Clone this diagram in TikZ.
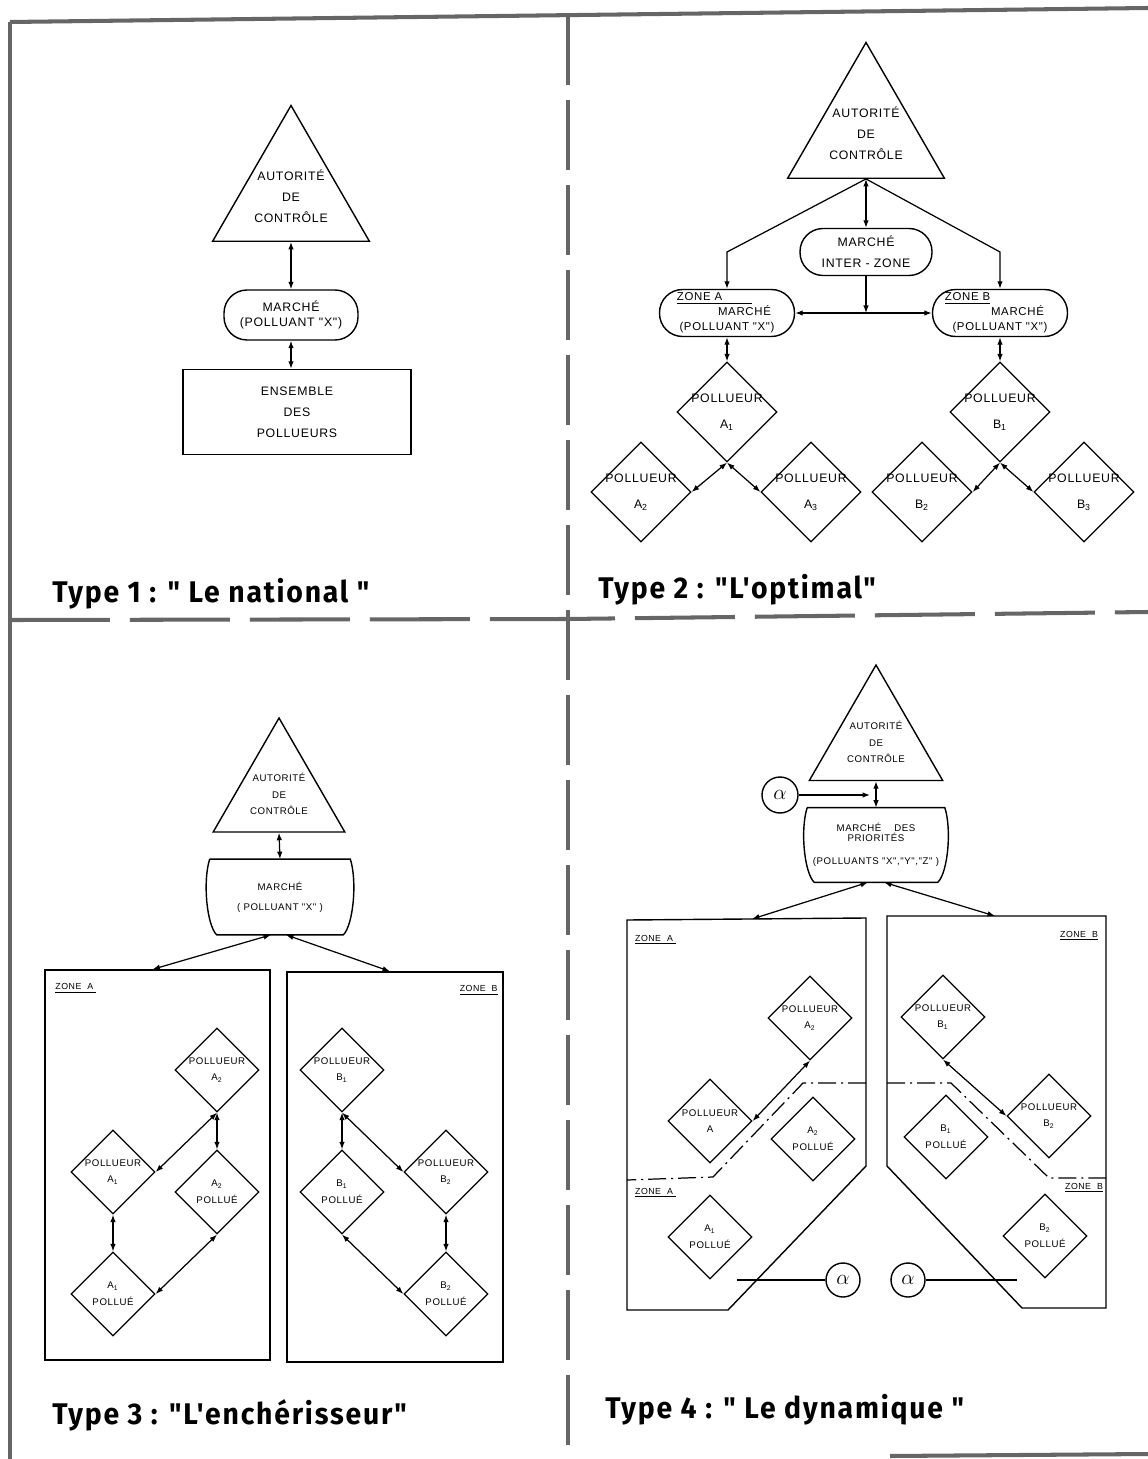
\documentclass[tikz,border=0pt]{standalone}
\usepackage{fontspec}
\newfontfamily\lettr[LetterSpace=6]{Liberation Sans}
\newfontfamily\titlefont[FakeStretch=0.95,LetterSpace=6]{Fira Sans}
\usetikzlibrary{arrows.meta,positioning,shapes.geometric,calc}
\newcommand{\zw}[1]{\makebox[0pt]{#1}}

\begin{document}
\begin{tikzpicture}[
  x=0.02cm, y=-0.02cm,
  >={Latex[length=1.5mm,width=1.1mm]},
  frame/.style   = {draw=black!60, line width=2.3pt},
  ctl/.style     = {regular polygon, regular polygon sides=3, draw, line width=0.8pt,
                    inner sep=0pt, align=center},
  pill/.style    = {rectangle, draw, rounded corners=0.46cm, line width=0.8pt,
                    inner sep=0pt, align=center},
  ens/.style     = {rectangle, draw, line width=0.8pt, inner sep=0pt, align=center},
  barrel/.style  = {rectangle, inner sep=0pt, align=center},
  pol/.style     = {diamond, draw, line width=0.7pt, inner sep=0pt, align=center},
  zonebox/.style = {draw, line width=0.8pt},
  sub/.style     = {draw, line width=0.7pt,
                    dash pattern=on 0.36cm off 0.1cm on 0.04cm off 0.1cm},
  alf/.style     = {circle, draw, line width=0.8pt, inner sep=0pt,
                    font=\fontsize{12}{12}\selectfont},
  arr/.style     = {<->, line width=0.7pt},
  sarr/.style    = {->, line width=0.7pt},
  big/.style     = {font=\lettr\fontsize{7}{12}\selectfont},
  sml/.style     = {font=\lettr\fontsize{5.5}{9.5}\selectfont},
  ztag/.style    = {font=\lettr\fontsize{5}{6}\selectfont, inner sep=1pt},
  title/.style   = {font=\titlefont\bfseries\fontsize{17}{20}\selectfont,
                    anchor=base west, inner sep=0pt}
]
\useasboundingbox (0,0) rectangle (1148,1459);

%%% ---- FRAME ----
\draw[frame] (10,22) -- (1148,8);
\draw[frame] (10,22) -- (10,1459);
\draw[frame, dash pattern=on 1.4cm off 0.3cm] (568,15) -- (568,1459);
\draw[frame, dash pattern=on 2cm off 0.4cm] (10,620) -- (568,619);
\draw[frame, dash pattern=on 2cm off 0.4cm, dash phase=1.06cm] (568,619) -- (1148,612);
\draw[frame] (890,1456) -- (1148,1454);

%%% ---- TYPE 1 ----
\node[ctl, big, minimum size=3.62cm] (aut1) at (291,196)
  {\zw{AUTORITÉ}\\\zw{DE}\\\zw{CONTRÔLE}};
\node[pill, big, minimum width=2.68cm, minimum height=1cm] (mk1) at (291,315)
  {\zw{MARCHÉ}\\[-3pt]\zw{(POLLUANT "X")}};
\node[ens, big, minimum width=4.56cm, minimum height=1.7cm] (ens1) at (297,412)
  {ENSEMBLE\\DES\\POLLUEURS};

\draw[arr] (aut1.south) -- (mk1.north);
\draw[arr] (mk1.south)  -- (mk1.south |- ens1.north);

\node[title] (t1) at (52,602) {Type 1 : " Le national "};

%%% ---- TYPE 2 ----
\node[ctl, big, minimum size=3.62cm] (aut2) at (866,133)
  {\zw{AUTORITÉ}\\\zw{DE}\\\zw{CONTRÔLE}};
\node[pill, big, minimum width=2.64cm, minimum height=0.94cm] (mi2) at (866,252)
  {\zw{MARCHÉ}\\\zw{INTER - ZONE}};
\node[pill, font=\lettr\fontsize{6.5}{8.5}\selectfont, minimum width=2.7cm,
      minimum height=0.94cm] (zA2) at (727,313)
  {\zw{\hspace*{-0.5cm}\underline{ZONE A\hspace*{0.6cm}}}\\
   \zw{\hspace*{0.7cm}MARCHÉ}\\\zw{(POLLUANT "X")}};
\node[pill, font=\lettr\fontsize{6.5}{8.5}\selectfont, minimum width=2.7cm,
      minimum height=0.94cm] (zB2) at (1000,313)
  {\zw{\hspace*{-1.3cm}\underline{ZONE B}}\\
   \zw{\hspace*{0.7cm}MARCHÉ}\\\zw{(POLLUANT "X")}};

\node[pol, big, minimum size=2cm] (pA1) at (727,412) {\zw{POLLUEUR}\\[3pt]\zw{A\textsubscript{1}}};
\node[pol, big, minimum size=2cm] (pA2) at (641,492) {\zw{POLLUEUR}\\[3pt]\zw{A\textsubscript{2}}};
\node[pol, big, minimum size=2cm] (pA3) at (811,492) {\zw{POLLUEUR}\\[3pt]\zw{A\textsubscript{3}}};
\node[pol, big, minimum size=2cm] (pB1) at (1000,412) {\zw{POLLUEUR}\\[3pt]\zw{B\textsubscript{1}}};
\node[pol, big, minimum size=2cm] (pB2) at (922,492) {\zw{POLLUEUR}\\[3pt]\zw{B\textsubscript{2}}};
\node[pol, big, minimum size=2cm] (pB3) at (1084,492) {\zw{POLLUEUR}\\[3pt]\zw{B\textsubscript{3}}};

\draw[arr]  (aut2.south) -- (mi2.north);
\draw[sarr] (aut2.south) -- (zA2.north |- mi2.center) -- (zA2.north);
\draw[sarr] (aut2.south) -- (zB2.north |- mi2.center) -- (zB2.north);
\draw[arr]  (zA2.east) -- (zB2.west);
\draw[sarr] (mi2.south) -- (mi2.south |- zA2.east);
\draw[arr]  (pA1.north) -- (zA2.south);
\draw[arr]  (pB1.north) -- (zB2.south);
\draw[arr]  (pA1.south) -- (pA2.east);
\draw[arr]  (pA1.south) -- (pA3.west);
\draw[arr]  (pB1.south) -- (pB2.east);
\draw[arr]  (pB1.south) -- (pB3.west);

\node[title] (t2) at (598,598) {Type 2 : "L'optimal"};

%%% ---- TYPE 3 ----
\node[ctl, sml, minimum size=3.04cm] (aut3) at (279,794)
  {\zw{AUTORITÉ}\\\zw{DE}\\\zw{CONTRÔLE}};
\node[barrel, sml, minimum width=2.8cm, minimum height=1.5cm] (mk3) at (280,897)
  {\zw{MARCHÉ}\\[2pt]\zw{( POLLUANT "X" )}};
\draw[line width=0.8pt] (mk3.north west) -- (mk3.north east)
  .. controls +(7,22) and +(10,-10) .. ($(mk3.south east)+(-7,0)$)
  -- ($(mk3.south west)+(7,0)$)
  .. controls +(-10,-10) and +(-7,22) .. (mk3.north west);

\node[zonebox, minimum width=4.5cm, minimum height=7.8cm] (zA3) at (157.5,1165) {};
\node[zonebox, minimum width=4.32cm, minimum height=7.8cm] (zB3) at (395,1167) {};
\node[ztag, anchor=north west] (zA3t) at ([shift={(9,12)}]zA3.north west) {\underline{ZONE\ \ A\ }};
\node[ztag, anchor=north east] (zB3t) at ([shift={(-4,12)}]zB3.north east) {\underline{ZONE\ \ B}};

\node[pol, sml, minimum size=1.68cm] (pA3a) at (217,1070) {\zw{POLLUEUR}\\\zw{A\textsubscript{2}}};
\node[pol, sml, minimum size=1.68cm] (eA3b) at (217,1192) {\zw{A\textsubscript{2}}\\\zw{POLLUÉ}};
\node[pol, sml, minimum size=1.68cm] (pA3c) at (113,1172) {\zw{POLLUEUR}\\\zw{A\textsubscript{1}}};
\node[pol, sml, minimum size=1.68cm] (eA3d) at (113,1294) {\zw{A\textsubscript{1}}\\\zw{POLLUÉ}};
\node[pol, sml, minimum size=1.68cm] (pB3a) at (342,1070) {\zw{POLLUEUR}\\\zw{B\textsubscript{1}}};
\node[pol, sml, minimum size=1.68cm] (eB3b) at (342,1192) {\zw{B\textsubscript{1}}\\\zw{POLLUÉ}};
\node[pol, sml, minimum size=1.68cm] (pB3c) at (446,1172) {\zw{POLLUEUR}\\\zw{B\textsubscript{2}}};
\node[pol, sml, minimum size=1.68cm] (eB3d) at (446,1294) {\zw{B\textsubscript{2}}\\\zw{POLLUÉ}};

\draw[arr] (aut3.south) -- (mk3.north);
\draw[arr] ([xshift=-0.18cm]mk3.south) -- ([xshift=-0.1cm]zA3.north);
\draw[arr] ([xshift=0.12cm]mk3.south) -- ([xshift=-0.1cm]zB3.north);
\draw[arr] (pA3a.south) -- (eA3b.north);
\draw[arr] (pA3c.south) -- (eA3d.north);
\draw[arr] (pA3c.east)  -- (pA3a.south);
\draw[arr] (eA3d.east)  -- (eA3b.south);
\draw[arr] (pB3a.south) -- (eB3b.north);
\draw[arr] (pB3c.south) -- (eB3d.north);
\draw[arr] (pB3a.south) -- (pB3c.west);
\draw[arr] (eB3b.south) -- (eB3d.west);

\node[title] (t3) at (52,1424) {Type 3 : "L'enchérisseur"};

%%% ---- TYPE 4 ----
\node[ctl, sml, minimum size=3.08cm] (aut4) at (876,742)
  {\zw{AUTORITÉ}\\\zw{DE}\\\zw{CONTRÔLE}};
\node[barrel, sml, minimum width=2.74cm, minimum height=1.48cm] (mk4) at (876,845)
  {\zw{MARCHÉ\quad\ DES}\\[-4pt]\zw{PRIORITÉS}\\[4pt]\zw{(POLLUANTS "X","Y","Z" )}};
\draw[line width=0.8pt] (mk4.north west) -- (mk4.north east)
  .. controls +(7,22) and +(10,-10) .. ($(mk4.south east)+(-7,0)$)
  -- ($(mk4.south west)+(7,0)$)
  .. controls +(-10,-10) and +(-7,22) .. (mk4.north west);
\node[alf, minimum size=0.72cm] (al0) at (780,795) {$\alpha$};

\draw[arr]  (aut4.south) -- (mk4.north);
\draw[sarr] (al0.east) -- ($(al0.east -| mk4.north)+(-6,0)$);

% zones
\draw[zonebox] (627,920) -- (866,918) -- (866,1166) -- (728,1310) -- (627,1310) -- cycle;
\draw[zonebox] (887,916) -- (1106,916) -- (1106,1308) -- (1022,1308) -- (887,1166) -- cycle;
\draw[sub] (866,1083) -- (803,1083) -- (713,1177) -- (627,1180);
\draw[sub] (887,1083) -- (951,1083) -- (1049,1178) -- (1106,1178);
\coordinate (zAt) at (752,919);
\coordinate (zBt) at (995,916);
\node[ztag, anchor=west] (zA4t) at (633,940)  {\underline{ZONE\ \ A\ }};
\node[ztag, anchor=east] (zB4t) at (1100,936) {\underline{ZONE\ \ B}};
\node[ztag, anchor=west] (zA4b) at (633,1193) {\underline{ZONE\ \ A\ }};
\node[ztag, anchor=east] (zB4b) at (1105,1188) {\underline{ZONE\ \ B}};

\draw[arr] ([xshift=-0.16cm]mk4.south) -- (zAt);
\draw[arr] ([xshift=0.16cm]mk4.south)  -- (zBt);

\node[pol, sml, minimum size=1.68cm] (pA4a) at (810,1018) {\zw{POLLUEUR}\\\zw{A\textsubscript{2}}};
\node[pol, sml, minimum size=1.68cm] (pA4b) at (710,1121) {\zw{POLLUEUR}\\\zw{A}};
\node[pol, sml, minimum size=1.68cm] (eA4a) at (813,1139) {\zw{A\textsubscript{2}}\\\zw{POLLUÉ}};
\node[pol, sml, minimum size=1.68cm] (eA4b) at (710,1237) {\zw{A\textsubscript{1}}\\\zw{POLLUÉ}};
\node[pol, sml, minimum size=1.68cm] (pB4a) at (943,1017) {\zw{POLLUEUR}\\\zw{B\textsubscript{1}}};
\node[pol, sml, minimum size=1.68cm] (eB4a) at (946,1137) {\zw{B\textsubscript{1}}\\\zw{POLLUÉ}};
\node[pol, sml, minimum size=1.68cm] (pB4b) at (1049,1116) {\zw{POLLUEUR}\\\zw{B\textsubscript{2}}};
\node[pol, sml, minimum size=1.68cm] (eB4b) at (1045,1236) {\zw{B\textsubscript{2}}\\\zw{POLLUÉ}};

\draw[arr] (pA4b.east)  -- (pA4a.south);
\draw[arr] (pB4a.south) -- (pB4b.west);

\node[alf, minimum size=0.68cm] (al1) at (843,1280) {$\alpha$};
\node[alf, minimum size=0.68cm] (al2) at (908,1280) {$\alpha$};
\coordinate (la1) at (737,1280);
\coordinate (la2) at (1017,1280);
\draw[line width=0.8pt] (al1.west) -- (la1);
\draw[line width=0.8pt] (al2.east) -- (la2);

\node[title] (t4) at (605,1418) {Type 4 : " Le dynamique "};
\end{tikzpicture}
\end{document}
